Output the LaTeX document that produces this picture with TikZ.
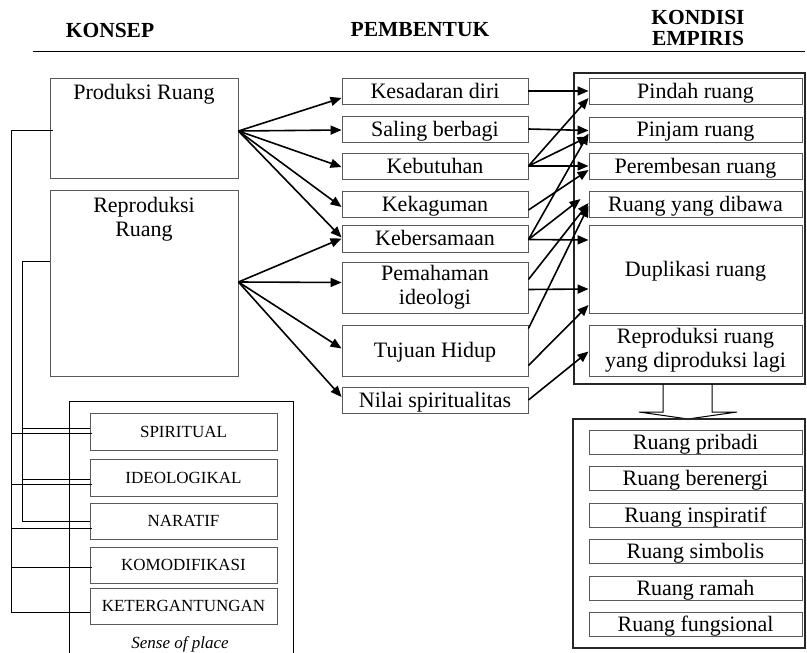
\documentclass[tikz,border=0pt]{standalone}
\usepackage{fontspec}
\setmainfont{Liberation Serif}
\usetikzlibrary{arrows.meta,calc,positioning}

\begin{document}
\begin{tikzpicture}[x=1pt, y=-1pt,
    font=\fontsize{22}{24}\selectfont,
    box/.style={draw=black!65, line width=0.9pt, inner sep=0pt, align=center},
    sbox/.style={box, text height=14.5pt, text depth=0pt},
    arr/.style={line width=1.6pt, -{Triangle[length=11pt,width=9pt]}},
    bus/.style={line width=1pt},
    frame/.style={draw=black!85, line width=1.2pt},
    hdr/.style={font=\fontsize{21.5}{21}\selectfont\bfseries, align=center},
    sop/.style={box, minimum width=187pt, minimum height=37pt, font=\fontsize{17}{20}\selectfont}]

    \useasboundingbox (0,0) rectangle (807,653);

    % Headers
    \node[hdr] (hkonsep) at (110,30) {KONSEP};
    \node[hdr] (hbentuk) at (420,30) {PEMBENTUK};
    \node[hdr] (hempiris) at (698,28) {KONDISI\\EMPIRIS};
    \draw[line width=1pt] (33,51) -- (805,51);

    % Konsep
    \node[box, minimum width=188pt, minimum height=100pt,
        label={[anchor=north, inner sep=0pt, yshift=-6pt]north:Produksi Ruang}] (prod) at (144,128) {};
    \node[box, minimum width=188pt, minimum height=186pt,
        label={[anchor=north, inner sep=0pt, yshift=-7pt, align=center]north:Reproduksi\\Ruang}] (repro) at (144,283) {};

    % Sense of place
    \draw[bus] (69,653) -- (69,401) -- (293,401) -- (293,653);
    \node[font=\fontsize{17}{20}\selectfont\itshape] (sense) at (180,644) {Sense of place};
    \node[sop] (spir) at (183.5,432) {SPIRITUAL};
    \node[sop] (ideo) at (183.5,478) {IDEOLOGIKAL};
    \node[sop, minimum height=36pt] (nara) at (183.5,521) {NARATIF};
    \node[sop, minimum height=36pt] (komo) at (183.5,565) {KOMODIFIKASI};
    \node[sop, minimum height=36pt] (keter) at (183.5,606) {KETERGANTUNGAN};

    % Lines from konsep to sense of place
    \coordinate (pbus) at ($(prod.west)+(-38,2)$);
    \coordinate (rbus) at ($(repro.west)+(-27,-22)$);
    \draw[bus] ($(prod.west)+(3,2)$) -- (pbus) |- ($(keter.west)+(0,6)$);
    \draw[bus] (repro.west |- rbus) -- (rbus) |- (nara.west);
    \foreach \n/\d in {spir/1, ideo/6, nara/7, komo/2}
        \draw[bus] ($(\n.west)+(2,\d)$) -| (pbus);
    \foreach \n/\d in {spir/-4, ideo/1}
        \draw[bus] ($(\n.west)+(0,\d)$) -| (rbus);

    % Pembentuk
    \node[sbox, minimum width=186pt, minimum height=26pt] (kes) at (435,91) {Kesadaran diri};
    \node[sbox, minimum width=186pt, minimum height=26pt] (sal) at (435,129) {Saling berbagi};
    \node[sbox, minimum width=186pt, minimum height=26pt] (kebut) at (435,166) {Kebutuhan};
    \node[sbox, minimum width=186pt, minimum height=26pt] (kekag) at (435,204) {Kekaguman};
    \node[sbox, minimum width=186pt, minimum height=27pt] (kebers) at (435,238.5) {Kebersamaan};
    \node[box, minimum width=186pt, minimum height=51pt] (paham) at (435,287.5) {Pemahaman\\ideologi};
    \node[sbox, minimum width=186pt, minimum height=51pt] (tujuan) at (435,350.5) {Tujuan Hidup};
    \node[sbox, minimum width=186pt, minimum height=26pt] (nilai) at (435,400) {Nilai spiritualitas};

    % Kondisi empiris
    \draw[frame] (574,73) rectangle (805,384);
    \node[sbox, minimum width=213pt, minimum height=26pt] (pindah) at (695.5,91) {Pindah ruang};
    \node[sbox, minimum width=213pt, minimum height=25pt] (pinjam) at (695.5,129.5) {Pinjam ruang};
    \node[sbox, minimum width=213pt, minimum height=26pt] (perem) at (695.5,166) {Perembesan ruang};
    \node[sbox, minimum width=213pt, minimum height=26pt] (dibawa) at (695.5,204) {Ruang yang dibawa};
    \node[sbox, minimum width=213pt, minimum height=88pt] (dupli) at (695.5,269) {Duplikasi ruang};
    \node[box, minimum width=213pt, minimum height=51pt] (reprol) at (695.5,350.5) {Reproduksi ruang\\yang diproduksi lagi};

    % Arrows from konsep
    \coordinate (pout) at ($(prod.east)+(0,3)$);
    \foreach \t/\d in {kes/7, sal/1, kebut/1, kekag/3, kebers/-1}
        \draw[arr] (pout) -- ($(\t.west)+(0,\d)$);
    \coordinate (rout) at ($(repro.east)+(0,-1)$);
    \foreach \t/\d in {kebers/0, paham/-5, tujuan/-2, nilai/-3}
        \draw[arr] (rout) -- ($(\t.west)+(0,\d)$);

    % Arrows from pembentuk
    \draw[arr] (kes.east) -- (pindah.west);
    \draw[arr] (sal.east) -- ($(pinjam.west)+(0,1)$);
    \draw[arr] (kebut.east) -- ($(pindah.west)+(0,7)$);
    \draw[arr] (kebut.east) -- ($(pinjam.west)+(0,7)$);
    \draw[arr] (kebut.east) -- (perem.west);
    \draw[arr] ($(kekag.east)+(0,6)$) -- ($(perem.west)+(0,4)$);
    \draw[arr] ($(kebers.east)+(0,1)$) -- ($(pinjam.west)+(0,4)$);
    \draw[arr] ($(kebers.east)+(0,1)$) -- ($(dibawa.west)+(-8,-5)$);
    \draw[arr] ($(kebers.east)+(0,1)$) -- ($(dupli.west)+(0,-29)$);
    \draw[arr] ($(paham.east)+(0,-8)$) -- ($(dibawa.west)+(0,-1)$);
    \draw[arr] ($(paham.east)+(0,2)$) -- ($(dupli.west)+(0,20)$);
    \draw[arr] ($(tujuan.east)+(0,-22)$) -- ($(dibawa.west)+(0,2)$);
    \draw[arr] ($(tujuan.east)+(0,15)$) -- ($(dupli.west)+(0,36)$);
    \draw[arr] (nilai.east) -- ($(reprol.west)+(0,1)$);

    % Block arrow
    \draw[line width=1pt] (663,384) -- (663,412) -- (639,412) -- (688,419) -- (737,412) -- (712,412) -- (712,384);

    % Ruang
    \draw[frame] (573,419) rectangle (805,648);
    \foreach \i/\txt in {0/Ruang pribadi, 1/Ruang berenergi, 2/Ruang inspiratif,
                         3/Ruang simbolis, 4/Ruang ramah, 5/Ruang fungsional}
        \node[sbox, minimum width=213pt, minimum height=24pt] (ruang\i) at (695.5,{442+36.5*\i}) {\txt};
\end{tikzpicture}
\end{document}
